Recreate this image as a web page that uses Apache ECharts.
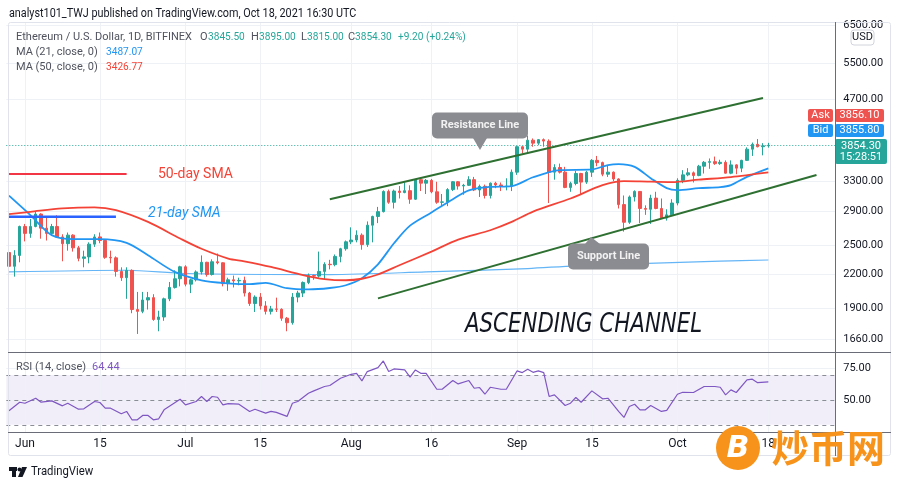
<!DOCTYPE html>
<html><head><meta charset="utf-8">
<script src="https://cdn.jsdelivr.net/npm/echarts@6/dist/echarts.min.js"></script>
<style>html,body{margin:0;padding:0;background:#fff}#c{width:900px;height:488px}</style>
</head><body><div id="c"></div>
<script>
// ---- DATA ----
// [date, open, close, low, high]
const ohlc = [
['2021-05-29',2420,2280,2170,2570],['2021-05-30',2280,2390,2180,2445],['2021-05-31',2390,2710,2320,2720],
['2021-06-01',2710,2630,2540,2740],['2021-06-02',2630,2710,2580,2800],['2021-06-03',2710,2860,2700,2890],
['2021-06-04',2860,2690,2570,2870],['2021-06-05',2690,2630,2550,2815],['2021-06-06',2630,2710,2610,2740],
['2021-06-07',2710,2590,2580,2845],['2021-06-08',2590,2515,2330,2620],['2021-06-09',2515,2610,2440,2640],
['2021-06-10',2610,2470,2430,2620],['2021-06-11',2470,2360,2330,2490],['2021-06-12',2360,2375,2270,2440],
['2021-06-13',2375,2510,2310,2530],['2021-06-14',2510,2590,2480,2620],['2021-06-15',2590,2550,2520,2640],
['2021-06-16',2550,2370,2355,2560],['2021-06-17',2370,2365,2310,2440],['2021-06-18',2365,2230,2180,2380],
['2021-06-19',2230,2170,2140,2270],['2021-06-20',2170,2240,1980,2270],['2021-06-21',2240,1890,1860,2250],
['2021-06-22',1890,1875,1700,2040],['2021-06-23',1875,1970,1860,2040],['2021-06-24',1970,1990,1890,2040],
['2021-06-25',1990,1810,1800,2020],['2021-06-26',1810,1830,1720,1880],['2021-06-27',1830,1980,1800,1990],
['2021-06-28',1980,2080,1960,2130],['2021-06-29',2080,2160,2070,2240],['2021-06-30',2160,2275,2090,2285],
['2021-07-01',2275,2110,2090,2290],['2021-07-02',2110,2150,2030,2160],['2021-07-03',2150,2225,2135,2240],
['2021-07-04',2225,2320,2200,2390],['2021-07-05',2320,2200,2180,2325],['2021-07-06',2200,2325,2190,2350],
['2021-07-07',2325,2315,2300,2410],['2021-07-08',2315,2115,2090,2320],['2021-07-09',2115,2150,2050,2170],
['2021-07-10',2150,2140,2080,2190],['2021-07-11',2140,2145,2100,2170],['2021-07-12',2145,2030,2000,2180],
['2021-07-13',2030,1940,1920,2040],['2021-07-14',1940,1995,1870,2010],['2021-07-15',1995,1920,1890,2030],
['2021-07-16',1920,1875,1850,1960],['2021-07-17',1875,1895,1850,1920],['2021-07-18',1895,1892,1870,1990],
['2021-07-19',1892,1820,1800,1900],['2021-07-20',1820,1785,1720,1830],['2021-07-21',1785,1995,1770,2030],
['2021-07-22',1995,2030,1950,2050],['2021-07-23',2030,2125,1995,2135],['2021-07-24',2125,2190,2110,2210],
['2021-07-25',2190,2185,2150,2200],['2021-07-26',2185,2230,2170,2430],['2021-07-27',2230,2300,2150,2320],
['2021-07-28',2300,2296,2250,2345],['2021-07-29',2296,2380,2280,2400],['2021-07-30',2380,2460,2320,2470],
['2021-07-31',2460,2535,2440,2550],
['2021-08-01',2535,2555,2510,2700],['2021-08-02',2555,2610,2530,2665],['2021-08-03',2610,2505,2450,2630],
['2021-08-04',2505,2725,2480,2770],['2021-08-05',2725,2830,2530,2840],['2021-08-06',2830,2890,2750,2950],
['2021-08-07',2890,3155,2880,3170],['2021-08-08',3155,3010,2990,3180],['2021-08-09',3010,3160,2930,3180],
['2021-08-10',3160,3140,3060,3230],['2021-08-11',3140,3165,3130,3280],['2021-08-12',3165,3050,2990,3240],
['2021-08-13',3050,3320,3040,3330],['2021-08-14',3320,3270,3160,3330],['2021-08-15',3270,3310,3120,3330],
['2021-08-16',3310,3150,3130,3330],['2021-08-17',3150,3010,2990,3290],['2021-08-18',3010,3015,2960,3120],
['2021-08-19',3015,3180,2960,3200],['2021-08-20',3180,3290,3160,3300],['2021-08-21',3290,3230,3180,3300],
['2021-08-22',3230,3240,3110,3260],['2021-08-23',3240,3320,3230,3370],['2021-08-24',3320,3175,3160,3360],
['2021-08-25',3175,3225,3080,3250],['2021-08-26',3225,3100,3060,3250],['2021-08-27',3100,3270,3060,3280],
['2021-08-28',3270,3245,3200,3290],['2021-08-29',3245,3225,3160,3280],['2021-08-30',3225,3228,3170,3340],
['2021-08-31',3228,3430,3160,3470],
['2021-09-01',3430,3830,3390,3840],['2021-09-02',3830,3790,3720,3840],['2021-09-03',3790,3940,3720,4020],
['2021-09-04',3940,3890,3830,3970],['2021-09-05',3890,3950,3860,3960],['2021-09-06',3950,3925,3830,3970],
['2021-09-07',3925,3430,3000,3955],['2021-09-08',3430,3500,3320,3550],['2021-09-09',3500,3430,3410,3560],
['2021-09-10',3430,3210,3200,3510],['2021-09-11',3210,3265,3150,3290],['2021-09-12',3265,3410,3240,3450],
['2021-09-13',3410,3285,3120,3420],['2021-09-14',3285,3430,3260,3450],['2021-09-15',3430,3610,3360,3630],
['2021-09-16',3610,3575,3520,3680],['2021-09-17',3575,3400,3370,3590],['2021-09-18',3400,3430,3360,3530],
['2021-09-19',3430,3330,3300,3440],['2021-09-20',3330,2980,2930,3340],['2021-09-21',2980,2760,2650,3100],
['2021-09-22',2760,3080,2740,3100],['2021-09-23',3080,3155,3020,3170],['2021-09-24',3155,2930,2750,3160],
['2021-09-25',2930,2920,2850,2970],['2021-09-26',2920,3065,2740,3110],['2021-09-27',3065,2930,2920,3150],
['2021-09-28',2930,2810,2800,3060],['2021-09-29',2810,2850,2780,2920],['2021-09-30',2850,3000,2840,3050],
['2021-10-01',3000,3310,2970,3340],['2021-10-02',3310,3390,3270,3460],['2021-10-03',3390,3420,3370,3490],
['2021-10-04',3420,3380,3280,3440],['2021-10-05',3380,3520,3370,3540],['2021-10-06',3520,3580,3410,3600],
['2021-10-07',3580,3590,3480,3640],['2021-10-08',3590,3560,3540,3670],['2021-10-09',3560,3580,3540,3620],
['2021-10-10',3580,3415,3410,3610],['2021-10-11',3415,3540,3400,3610],['2021-10-12',3540,3490,3400,3550],
['2021-10-13',3490,3610,3430,3620],['2021-10-14',3610,3790,3600,3820],['2021-10-15',3790,3870,3680,3900],
['2021-10-16',3870,3830,3820,3960],['2021-10-17',3830,3845,3690,3890],['2021-10-18',3845.5,3854.3,3815,3895]
];
// empty future days on the right of the chart
const padDates = ['2021-10-19','2021-10-20','2021-10-21','2021-10-22','2021-10-23','2021-10-24',
  '2021-10-25','2021-10-26','2021-10-27','2021-10-28','2021-10-29','2021-10-30'];

const ma21 = [['2021-05-29',3097],['2021-06-02',2847],['2021-06-06',2610],['2021-06-10',2565],['2021-06-15',2565],
 ['2021-06-20',2524],['2021-06-24',2392],['2021-06-29',2225],['2021-07-04',2146],['2021-07-09',2118],['2021-07-13',2110],
 ['2021-07-16',2122],['2021-07-20',2073],['2021-07-24',2062],['2021-07-28',2075],['2021-07-31',2100],['2021-08-03',2165],
 ['2021-08-06',2300],['2021-08-09',2520],['2021-08-12',2720],['2021-08-16',2880],['2021-08-20',3050],['2021-08-23',3170],
 ['2021-08-27',3218],['2021-08-31',3229],['2021-09-04',3355],['2021-09-09',3460],['2021-09-15',3471],['2021-09-18',3537],
 ['2021-09-20',3553],['2021-09-23',3510],['2021-09-26',3342],['2021-09-29',3200],['2021-10-01',3172],['2021-10-05',3200],
 ['2021-10-09',3214],['2021-10-11',3242],['2021-10-14',3361],['2021-10-18',3487.07]];
const ma50 = [['2021-05-29',2859],['2021-06-02',2888],['2021-06-08',2931],['2021-06-14',2945],['2021-06-18',2909],
 ['2021-06-24',2764],['2021-06-30',2572],['2021-07-04',2460],['2021-07-09',2358],['2021-07-12',2330],['2021-07-17',2274],
 ['2021-07-23',2195],['2021-07-27',2157],['2021-07-31',2146],['2021-08-03',2160],['2021-08-06',2200],['2021-08-10',2290],
 ['2021-08-16',2430],['2021-08-21',2560],['2021-08-27',2666],['2021-08-31',2764],['2021-09-04',2890],['2021-09-11',3060],
 ['2021-09-17',3242],['2021-09-21',3300],['2021-09-24',3296],['2021-09-30',3285],['2021-10-05',3320],['2021-10-11',3358],
 ['2021-10-18',3426.77]];
const ma200 = [['2021-05-29',2225],['2021-06-20',2241],['2021-07-01',2210],['2021-07-28',2200],['2021-08-15',2225],
 ['2021-09-03',2258],['2021-09-12',2285],['2021-10-09',2331],['2021-10-18',2343]];
const rsi14 = [['2021-05-29',41.2],['2021-05-31',48.1],['2021-06-01',47.3],['2021-06-03',51.3],['2021-06-04',48.1],
 ['2021-06-06',49.2],['2021-06-08',45.2],['2021-06-09',47.3],['2021-06-11',42.5],['2021-06-12',42.8],['2021-06-14',48.7],
 ['2021-06-15',47.9],['2021-06-16',43.3],['2021-06-17',43.3],['2021-06-19',38.8],['2021-06-20',40.7],['2021-06-21',34.0],
 ['2021-06-22',34.0],['2021-06-23',37.5],['2021-06-24',37.5],['2021-06-25',34.0],['2021-06-26',34.8],['2021-06-27',42.0],
 ['2021-06-30',50.5],['2021-07-01',46.0],['2021-07-03',48.7],['2021-07-04',52.7],['2021-07-05',48.7],['2021-07-06',52.7],
 ['2021-07-07',52.1],['2021-07-08',46.0],['2021-07-09',47.0],['2021-07-11',46.5],['2021-07-13',40.7],['2021-07-14',42.5],
 ['2021-07-16',39.3],['2021-07-17',40.7],['2021-07-18',39.9],['2021-07-20',36.7],['2021-07-21',47.3],['2021-07-22',48.7],
 ['2021-07-24',55.3],['2021-07-25',57.2],['2021-07-27',60.7],['2021-07-28',61.5],['2021-07-30',67.3],['2021-08-01',70.5],
 ['2021-08-02',71.3],['2021-08-03',65.2],['2021-08-04',72.7],['2021-08-06',75.9],['2021-08-07',81.2],['2021-08-08',72.7],
 ['2021-08-09',74.8],['2021-08-11',74.0],['2021-08-12',68.2],['2021-08-13',74.0],['2021-08-14',71.3],['2021-08-15',71.3],
 ['2021-08-17',58.5],['2021-08-18',58.5],['2021-08-20',65.5],['2021-08-21',62.8],['2021-08-23',65.5],['2021-08-24',59.3],
 ['2021-08-25',59.9],['2021-08-26',54.5],['2021-08-27',60.1],['2021-08-29',58.5],['2021-08-30',58.5],['2021-09-01',73.2],
 ['2021-09-02',71.9],['2021-09-03',74.5],['2021-09-04',72.1],['2021-09-05',73.2],['2021-09-06',71.9],['2021-09-07',52.7],
 ['2021-09-08',54.0],['2021-09-10',45.5],['2021-09-11',47.3],['2021-09-12',51.9],['2021-09-13',48.1],['2021-09-15',57.2],
 ['2021-09-17',50.8],['2021-09-18',51.3],['2021-09-20',40.7],['2021-09-21',35.9],['2021-09-22',44.7],['2021-09-23',46.5],
 ['2021-09-24',42.0],['2021-09-25',42.0],['2021-09-26',45.5],['2021-09-28',40.7],['2021-09-29',41.5],['2021-10-01',54.5],
 ['2021-10-02',56.1],['2021-10-04',55.9],['2021-10-06',60.7],['2021-10-08',60.7],['2021-10-09',60.1],['2021-10-10',54.0],
 ['2021-10-11',58.0],['2021-10-12',55.9],['2021-10-14',66.0],['2021-10-15',66.6],['2021-10-16',63.8],['2021-10-18',64.44]];

// drawn annotation lines [date, price]
const resistanceLine = [['2021-07-28',3050],['2021-10-17',4730]];
const supportLine = [['2021-08-06',1984],['2021-10-27',3389]];
const sma50Swatch = [['2021-05-29',3401],['2021-06-20',3401]];
const sma21Swatch = [['2021-05-29',2826],['2021-06-18',2826]];

const priceTicks = [1660,1900,2200,2500,2900,3300,4700,5500,6500];
const rsiTicks = [50,75];
const rsiLevels = [70,50,30];
const dateTicks = ['2021-06-01','2021-06-15','2021-07-01','2021-07-15','2021-08-01','2021-08-16',
  '2021-09-01','2021-09-15','2021-10-01','2021-10-18'];
const monthNames = ['Jan','Feb','Mar','Apr','May','Jun','Jul','Aug','Sep','Oct','Nov','Dec'];

const quote = {open:'3845.50', high:'3895.00', low:'3815.00', close:'3854.30', change:'+9.20 (+0.24%)'};
const ma21Last = '3487.07', ma50Last = '3426.77', rsiLast = '64.44';
const lastPrice = 3854.30, askPrice = 3856.10, bidPrice = 3855.80, countdown = '15:28:51';

const categories = ohlc.map(r => r[0]).concat(padDates);

// ---- CHART ----
const FONT = 'Roboto, "Noto Sans", sans-serif';
const chart = echarts.init(document.getElementById('c'), null, {renderer:'canvas'});

function fmtDate(v){ const p=v.split('-'); return p[2]==='01' ? monthNames[+p[1]-1] : String(+p[2]); }
const gridColor = '#eef1f6';
const vGrid = dateTicks.map(d => ({xAxis:d, label:{show:false}, lineStyle:{color:gridColor, type:'solid', width:1}}));

function T(text,x,y,o){ o=o||{}; return {type:'text', silent:true, z:o.z||60, x:x, y:y, scaleX:o.sx||1,
  style:{text:text, x:0, y:0, fill:o.c||'#131722', font:o.font||('11px '+FONT),
    align:o.a||'left', verticalAlign:'middle', textAlign:o.a||'left', textVerticalAlign:'middle'}}; }
function R(x,y,w,h,fill,o){ o=o||{}; return {type:'rect', silent:true, z:o.z||55, shape:{x:x,y:y,width:w,height:h,r:o.r||0},
  style:{fill:fill, stroke:o.stroke||null, lineWidth:o.lw||1}}; }
function L(x1,y1,x2,y2,c,w){ return {type:'line', silent:true, z:58, shape:{x1:x1,y1:y1,x2:x2,y2:y2}, style:{stroke:c,lineWidth:w||1}}; }

const NS = 0.92; // legend numbers horizontal squeeze
const graphics = [
  // frame
  {type:'rect', silent:true, z:40, shape:{x:8.5,y:22.5,width:882,height:433,r:2}, style:{fill:null,stroke:'#e0e3eb',lineWidth:1}},
  L(835.5,22,835.5,456,'#6a6d78',1),
  L(8,352.5,891,352.5,'#6a6d78',1.2),
  L(8,432.5,891,432.5,'#6a6d78',1.2),
  // header
  T('analyst101_TWJ published on TradingView.com, Oct 18, 2021 16:30 UTC', 9, 14, {font:'12px '+FONT, c:'#131722', sx:0.9}),
  T('Ethereum / U.S. Dollar, 1D, BITFINEX', 16, 37, {c:'#50535e'}),
  T('O', 200, 37, {c:'#50535e'}), T(quote.open, 208, 37, {c:'#26a69a', sx:NS}),
  T('H', 251, 37, {c:'#50535e'}), T(quote.high, 259, 37, {c:'#26a69a', sx:NS}),
  T('L', 301, 37, {c:'#50535e'}), T(quote.low, 307, 37, {c:'#26a69a', sx:NS}),
  T('C', 348, 37, {c:'#50535e'}), T(quote.close, 355, 37, {c:'#26a69a', sx:NS}),
  T(quote.change, 398, 37, {c:'#26a69a', sx:NS}),
  T('MA (21, close, 0)', 16, 52, {c:'#50535e'}), T(ma21Last, 106, 52, {c:'#2196f3', sx:NS}),
  T('MA (50, close, 0)', 16, 67, {c:'#50535e'}), T(ma50Last, 106, 67, {c:'#f44336', sx:NS}),
  T('RSI (14, close)', 16, 367, {c:'#50535e'}), T(rsiLast, 92, 367, {c:'#7e57c2'}),
  // USD box
  R(851,30,23,15,'#ffffff',{stroke:'#d1d4dc',r:3}), T('USD', 862.5, 37.5, {a:'center'}),
  // ask / bid / last
  R(808,109,25,13,'#ef5350',{r:2}), T('Ask', 820.5, 115.5, {a:'center', c:'#fff'}),
  R(835,109,49,13,'#ef5350',{r:2}), T(askPrice.toFixed(2), 859.5, 115.5, {a:'center', c:'#fff'}),
  R(808,124,25,13,'#2196f3',{r:2}), T('Bid', 820.5, 130.5, {a:'center', c:'#fff'}),
  R(835,124,49,13,'#2196f3',{r:2}), T(bidPrice.toFixed(2), 859.5, 130.5, {a:'center', c:'#fff'}),
  R(835,139,52,25,'#26a69a',{r:2}), T(lastPrice.toFixed(2), 861, 146, {a:'center', c:'#fff'}),
  T(countdown, 861, 157, {a:'center', c:'#fff'}),
  // text annotations
  T('50-day SMA', 158, 174, {font:'14px '+FONT, c:'#f44336'}),
  T('21-day SMA', 148, 213, {font:'italic 14px '+FONT, c:'#2196f3'}),
  R(432,112.5,96,26,'#8b8c91',{r:5}),
  {type:'polygon', silent:true, z:55, shape:{points:[[473,138],[487,138],[480,150]]}, style:{fill:'#8b8c91'}},
  T('Resistance Line', 480, 125.5, {a:'center', c:'#f2f2f2', font:'bold 11px '+FONT}),
  R(568,243.5,81,26,'#8b8c91',{r:5}),
  {type:'polygon', silent:true, z:55, shape:{points:[[585,244],[600,244],[591,237]]}, style:{fill:'#8b8c91'}},
  T('Support Line', 608.5, 256.5, {a:'center', c:'#f2f2f2', font:'bold 11px '+FONT}),
  T('ASCENDING CHANNEL', 465, 325, {font:'italic 26px "DejaVu Sans"', c:'#131722', sx:0.82}),
  // TradingView branding
  R(9,467,8,4,'#131722',{z:60}), R(12,467,4,10,'#131722',{z:60}),
  {type:'circle', silent:true, z:60, shape:{cx:19.5,cy:469.5,r:2}, style:{fill:'#131722'}},
  {type:'polygon', silent:true, z:60, shape:{points:[[22,467],[27,467],[22.5,477],[18,477]]}, style:{fill:'#131722'}},
  T('TradingView', 31, 472, {font:'13px '+FONT, c:'#131722', sx:0.87}),
  // watermark
  {type:'circle', silent:true, z:90, shape:{cx:738,cy:448,r:22}, style:{fill:'#f7931a'}},
  T('B', 738, 449, {a:'center', c:'#ffffff', font:'italic bold 30px "DejaVu Sans"', z:91}),
  T('炒币网', 771, 448, {c:'#f7931a', font:'bold 38px "Noto Sans CJK SC"', z:91})
];

const option = {
  animation:false,
  backgroundColor:'#ffffff',
  grid:[{left:6.3, top:22, width:828.9, height:330},{left:6.3, top:352, width:828.9, height:80}],
  xAxis:[
    {type:'category', gridIndex:0, data:categories, boundaryGap:true, axisLine:{show:false}, axisTick:{show:false},
      axisLabel:{show:false}, splitLine:{show:false}},
    {type:'category', gridIndex:1, data:categories, boundaryGap:true, axisLine:{show:false}, axisTick:{show:false},
      axisLabel:{interval:function(i,v){return dateTicks.indexOf(v)>=0;}, formatter:fmtDate, color:'#131722',
        fontSize:12, margin:6, fontFamily:FONT}, splitLine:{show:false}}
  ],
  yAxis:[
    {type:'log', gridIndex:0, min:1572, max:6580, show:false},
    {type:'value', gridIndex:1, min:24.2, max:88.4, show:false}
  ],
  series:[
    {name:'MA200', type:'line', xAxisIndex:0, yAxisIndex:0, data:ma200, showSymbol:false, symbol:'none', smooth:0.3,
      lineStyle:{color:'#64b5f6', width:1.2}, z:2,
      markLine:{silent:true, symbol:'none', z:1, animation:false,
        lineStyle:{color:gridColor, width:1, type:'solid'},
        label:{show:true, position:'end', distance:8, color:'#131722', fontSize:11, fontFamily:FONT,
          formatter:function(p){return Number(p.value).toFixed(2);}},
        data: priceTicks.map(v => ({yAxis:v})).concat(vGrid)}},
    {name:'ETHUSD', type:'candlestick', xAxisIndex:0, yAxisIndex:0, data:ohlc.map(r => r.slice(1)), barWidth:3, z:3,
      itemStyle:{color:'#26a69a', color0:'#ef5350', borderColor:'#26a69a', borderColor0:'#ef5350', borderWidth:1},
      markLine:{silent:true, symbol:'none', z:4, animation:false, label:{show:false},
        lineStyle:{color:'#26a69a', type:[1,2], width:1}, data:[{yAxis:lastPrice}]}},
    {name:'MA21', type:'line', xAxisIndex:0, yAxisIndex:0, data:ma21, showSymbol:false, symbol:'none', smooth:0.3,
      lineStyle:{color:'#2196f3', width:1.8}, z:4},
    {name:'MA50', type:'line', xAxisIndex:0, yAxisIndex:0, data:ma50, showSymbol:false, symbol:'none', smooth:0.3,
      lineStyle:{color:'#f44336', width:1.8}, z:4},
    {name:'Resistance', type:'line', xAxisIndex:0, yAxisIndex:0, data:resistanceLine, showSymbol:false, symbol:'none',
      lineStyle:{color:'#2e7031', width:2}, z:5},
    {name:'Support', type:'line', xAxisIndex:0, yAxisIndex:0, data:supportLine, showSymbol:false, symbol:'none',
      lineStyle:{color:'#2e7031', width:2}, z:5},
    {name:'SMA50 key', type:'line', xAxisIndex:0, yAxisIndex:0, data:sma50Swatch, showSymbol:false, symbol:'none',
      lineStyle:{color:'#f23645', width:2}, z:5},
    {name:'SMA21 key', type:'line', xAxisIndex:0, yAxisIndex:0, data:sma21Swatch, showSymbol:false, symbol:'none',
      lineStyle:{color:'#2962ff', width:2.5}, z:5},
    {name:'RSI', type:'line', xAxisIndex:1, yAxisIndex:1, data:rsi14, showSymbol:false, symbol:'none',
      lineStyle:{color:'#7e57c2', width:1.2}, z:3,
      markArea:{silent:true, z:1, itemStyle:{color:'rgba(126,87,194,0.1)'}, data:[[{yAxis:70},{yAxis:30}]]},
      markLine:{silent:true, symbol:'none', z:2, animation:false,
        label:{show:false},
        data: vGrid.concat(rsiTicks.map(v => ({yAxis:v, lineStyle:{color:gridColor, type:'solid', width:1},
            label:{show:true, position:'end', distance:8, color:'#131722', fontSize:11, fontFamily:FONT,
              formatter:function(p){return Number(p.value).toFixed(2);}}})))
          .concat(rsiLevels.map(v => ({yAxis:v, lineStyle:{color:'#8a8d96', type:[4,4], width:1}})))}}
  ],
  graphic: graphics
};
chart.setOption(option);
</script>
</body></html>
